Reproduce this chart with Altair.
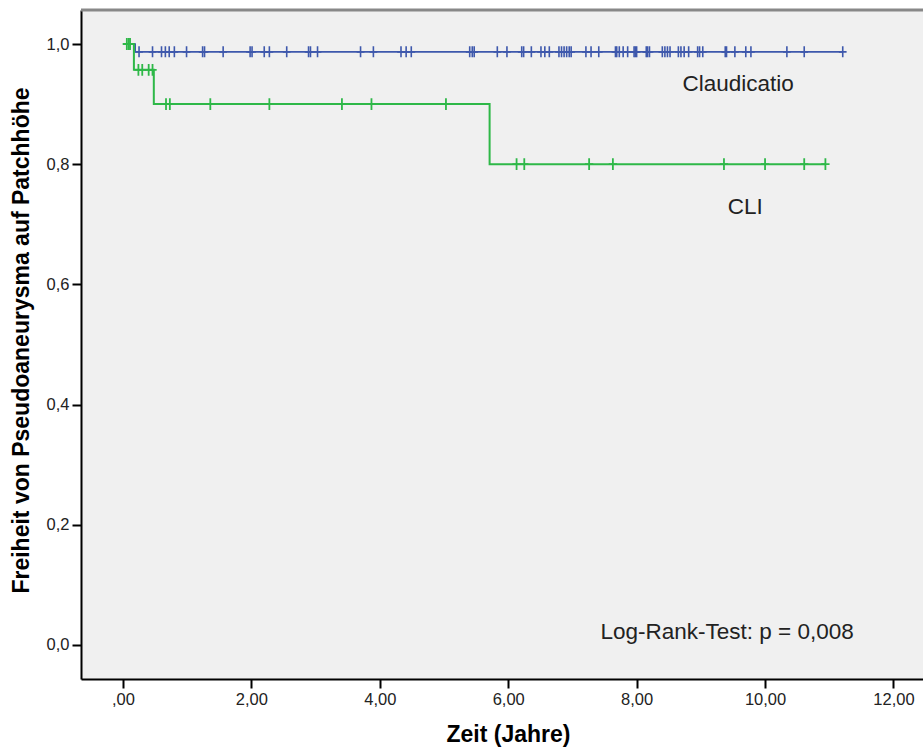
import altair as alt
import pandas as pd

# Kaplan-Meier step curves (time in years, survival)
blue_step_t = [0.0, 0.19, 11.21]
blue_step_s = [1.0, 0.987, 0.987]
green_step_t = [0.0, 0.17, 0.48, 5.71, 10.94]
green_step_s = [1.0, 0.957, 0.90, 0.80, 0.80]

# censored observations
blue_cens = [0.25, 0.46, 0.60, 0.66, 0.72, 0.80, 0.99, 1.24, 1.27, 1.56, 1.98, 2.01,
             2.20, 2.28, 2.55, 2.89, 2.92, 3.03, 3.70, 3.90, 4.33, 4.41, 4.49, 5.40,
             5.44, 5.47, 5.83, 5.98, 6.21, 6.24, 6.36, 6.51, 6.57, 6.64, 6.79, 6.83,
             6.87, 6.91, 6.95, 6.98, 7.21, 7.29, 7.41, 7.67, 7.69, 7.73, 7.79, 7.86,
             7.96, 7.98, 8.00, 8.15, 8.17, 8.20, 8.40, 8.44, 8.48, 8.52, 8.65, 8.69,
             8.74, 8.81, 8.95, 8.98, 9.03, 9.38, 9.40, 9.53, 9.70, 9.78, 10.34, 10.61,
             11.21]
green_cens = [0.06, 0.09, 0.11, 0.24, 0.30, 0.40, 0.46, 0.67, 0.73, 1.36, 2.28, 3.41,
              3.87, 5.03, 6.13, 6.25, 7.26, 7.63, 9.36, 10.00, 10.61, 10.94]

labels = ["Claudicatio", "CLI", "Log-Rank-Test: p = 0,008"]
label_t = [9.58, 9.69, 9.41]
label_s = [0.934, 0.728, 0.022]

BLUE = "#3E58AC"
GREEN = "#2EB848"
FONT = "Liberation Sans"


def surv_at(t, ts, ss):
    s = ss[0]
    for ti, si in zip(ts, ss):
        if t >= ti:
            s = si
    return s


blue_line = pd.DataFrame({"t": blue_step_t, "s": blue_step_s})
green_line = pd.DataFrame({"t": green_step_t, "s": green_step_s})
blue_pts = pd.DataFrame({"t": blue_cens,
                         "s": [surv_at(t, blue_step_t, blue_step_s) for t in blue_cens]})
green_pts = pd.DataFrame({"t": green_cens,
                          "s": [surv_at(t, green_step_t, green_step_s) for t in green_cens]})
text_df = pd.DataFrame({"label": labels, "t": label_t, "s": label_s})

xscale = alt.Scale(domain=[-0.654, 12.46], nice=False, zero=False)
yscale = alt.Scale(domain=[-0.0566, 1.0566], nice=False, zero=False)

xaxis = alt.Axis(
    title="Zeit (Jahre)", values=[0, 2, 4, 6, 8, 10, 12],
    labelExpr="datum.value == 0 ? ',00' : replace(format(datum.value, '.2f'), '.', ',')",
    grid=False, domainColor="black", domainWidth=2, tickColor="black", tickWidth=2,
    tickSize=9, labelFontSize=16.5, labelFont=FONT, labelColor="#222",
    labelPadding=3, titleFont=FONT, titleFontSize=23, titleFontWeight="bold",
    titleColor="black", titlePadding=16, titleX=427,
)
yaxis = alt.Axis(
    title="Freiheit von Pseudoaneurysma auf Patchhöhe",
    values=[0, 0.2, 0.4, 0.6, 0.8, 1.0],
    labelExpr="replace(format(datum.value, '.1f'), '.', ',')",
    grid=False, domainColor="black", domainWidth=2, tickColor="black", tickWidth=2,
    tickSize=9, labelFontSize=16.5, labelFont=FONT, labelColor="#222",
    labelPadding=3, titleFont=FONT, titleFontSize=23, titleFontWeight="bold",
    titleColor="black", titlePadding=13, titleY=330,
)

cross = "M-0.7,0H0.7M0,-1V1"

top_border = alt.Chart(pd.DataFrame({"a": [0]})).mark_rule(
    color="#888888", strokeWidth=3
).encode(y=alt.value(0))

l_blue = alt.Chart(blue_line).mark_line(
    interpolate="step-after", color=BLUE, strokeWidth=1.6
).encode(x=alt.X("t:Q", scale=xscale, axis=xaxis), y=alt.Y("s:Q", scale=yscale, axis=yaxis))

p_blue = alt.Chart(blue_pts).mark_point(
    shape=cross, size=121, color=BLUE, filled=False, strokeWidth=1.6, opacity=1
).encode(x=alt.X("t:Q", scale=xscale), y=alt.Y("s:Q", scale=yscale))

l_green = alt.Chart(green_line).mark_line(
    interpolate="step-after", color=GREEN, strokeWidth=2
).encode(x=alt.X("t:Q", scale=xscale), y=alt.Y("s:Q", scale=yscale))

p_green = alt.Chart(green_pts).mark_point(
    shape=cross, size=140, color=GREEN, filled=False, strokeWidth=1.8, opacity=1
).encode(x=alt.X("t:Q", scale=xscale), y=alt.Y("s:Q", scale=yscale))

txt = alt.Chart(text_df).mark_text(
    font=FONT, fontSize=22.5, color="#222", align="center", baseline="middle"
).encode(x=alt.X("t:Q", scale=xscale), y=alt.Y("s:Q", scale=yscale), text="label:N")

chart = alt.layer(top_border, l_blue, p_blue, l_green, p_green, txt).properties(
    width=842, height=669,
    autosize=alt.AutoSizeParams(type="none"),
    padding={"left": 81, "top": 10, "right": 0, "bottom": 70},
    background="white",
).configure_view(fill="#F0F0F0", stroke="transparent")

chart.save("out.html", embed_options={"renderer": "svg", "actions": False})
